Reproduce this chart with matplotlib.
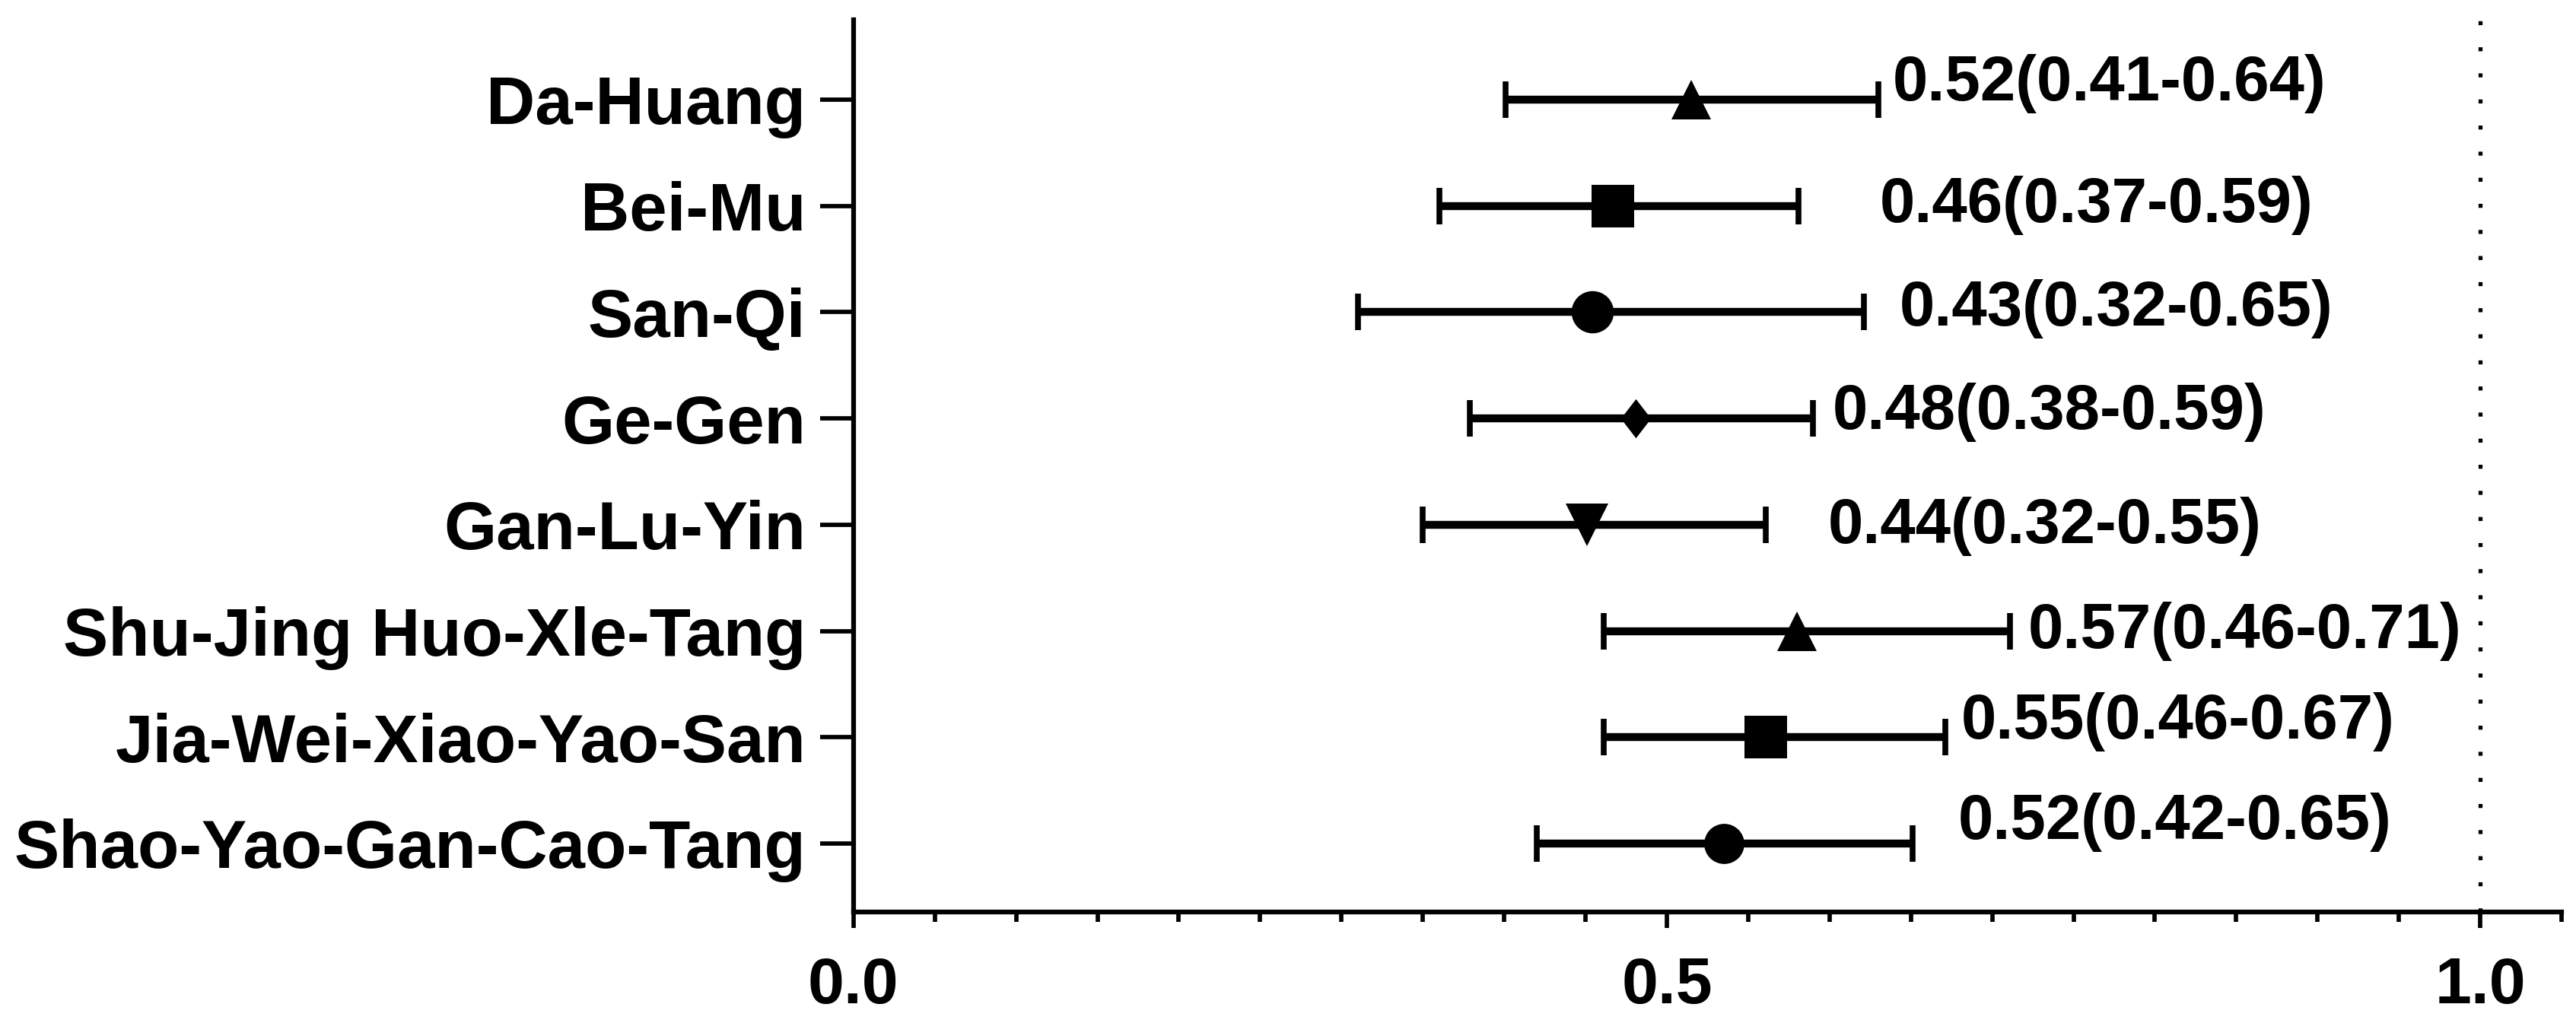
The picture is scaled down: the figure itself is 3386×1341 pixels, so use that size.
import matplotlib
matplotlib.use("Agg")
import matplotlib.pyplot as plt
from matplotlib.ticker import MultipleLocator, FixedLocator
from matplotlib.path import Path

# ---------------- data ----------------
categories = ["Da-Huang", "Bei-Mu", "San-Qi", "Ge-Gen", "Gan-Lu-Yin",
              "Shu-Jing Huo-Xle-Tang", "Jia-Wei-Xiao-Yao-San",
              "Shao-Yao-Gan-Cao-Tang"]
# plotted positions (as drawn in the figure)
or_est = [0.515, 0.467, 0.454, 0.481, 0.451, 0.580, 0.561, 0.535]
ci_low = [0.401, 0.360, 0.310, 0.379, 0.350, 0.461, 0.461, 0.420]
ci_high = [0.630, 0.581, 0.621, 0.590, 0.561, 0.711, 0.671, 0.651]
# reported values (annotation text)
rep_or = [0.52, 0.46, 0.43, 0.48, 0.44, 0.57, 0.55, 0.52]
rep_low = [0.41, 0.37, 0.32, 0.38, 0.32, 0.46, 0.46, 0.42]
rep_high = [0.64, 0.59, 0.65, 0.59, 0.55, 0.71, 0.67, 0.65]
x_ticks = [0.0, 0.5, 1.0]
x_tick_labels = ["0.0", "0.5", "1.0"]

# ---------------- layout / style ----------------
label_x = [0.639, 0.631, 0.643, 0.602, 0.599, 0.722, 0.681, 0.679]
label_dy = [0.01, 0.15, 0.13, 0.10, 0.17, 0.16, 0.01, -0.04]
thin_diamond = Path([(0, 1), (0.77, 0), (0, -1), (-0.77, 0), (0, 1)],
                    [Path.MOVETO, Path.LINETO, Path.LINETO, Path.LINETO, Path.CLOSEPOLY])
markers = ["^", "s", "o", thin_diamond, "v", "^", "s", "o"]
marker_sizes = [38, 40, 40, 37, 40, 38, 40, 38]

FONT = "Liberation Sans"
plt.rcParams["font.family"] = [FONT, "DejaVu Sans"]
plt.rcParams["font.weight"] = "bold"

fig = plt.figure(figsize=(33.86, 13.41), dpi=100)
ax = fig.add_axes([0.3313, 0.1059, 0.9944 - 0.3313, 0.9806 - 0.1059])

n = len(categories)
ypos = [n - i for i in range(n)]

ax.axvline(1.0, color="black", lw=3.8, linestyle=(0, (1, 5.5)), zorder=0)

for i in range(n):
    x = or_est[i]
    ax.errorbar([x], [ypos[i]], xerr=[[x - ci_low[i]], [ci_high[i] - x]],
                fmt="none", ecolor="black", elinewidth=7.5, capsize=17,
                capthick=5.5, zorder=2)
    ax.plot([x], [ypos[i]], marker=markers[i], markersize=marker_sizes[i],
            color="black", markeredgewidth=0, linestyle="none", zorder=3)
    txt = f"{rep_or[i]:.2f}({rep_low[i]:.2f}-{rep_high[i]:.2f})"
    ax.text(label_x[i], ypos[i] - label_dy[i], txt, fontsize=60,
            fontweight="bold", ha="left", va="baseline", color="black")

ax.set_xlim(0, 1.05)
ax.set_ylim(0.356, 8.75)

ax.set_yticks(ypos)
ax.set_yticklabels(categories, fontsize=64, fontweight="bold")
ax.xaxis.set_major_locator(FixedLocator(x_ticks))
ax.set_xticklabels(x_tick_labels, fontsize=62, fontweight="bold")
ax.xaxis.set_minor_locator(MultipleLocator(0.05))

for s in ["top", "right"]:
    ax.spines[s].set_visible(False)
for s in ["left", "bottom"]:
    ax.spines[s].set_linewidth(4.5)
    ax.spines[s].set_color("black")

ax.tick_params(axis="y", which="major", length=32, width=4.1, pad=13,
               direction="out", colors="black")
ax.tick_params(axis="x", which="major", length=15, width=4.1, pad=27,
               direction="out", colors="black")
ax.tick_params(axis="x", which="minor", length=9, width=4.1, direction="out")
ax.tick_params(axis="y", which="minor", left=False)

fig.savefig("out.png", dpi=100, facecolor="white")
